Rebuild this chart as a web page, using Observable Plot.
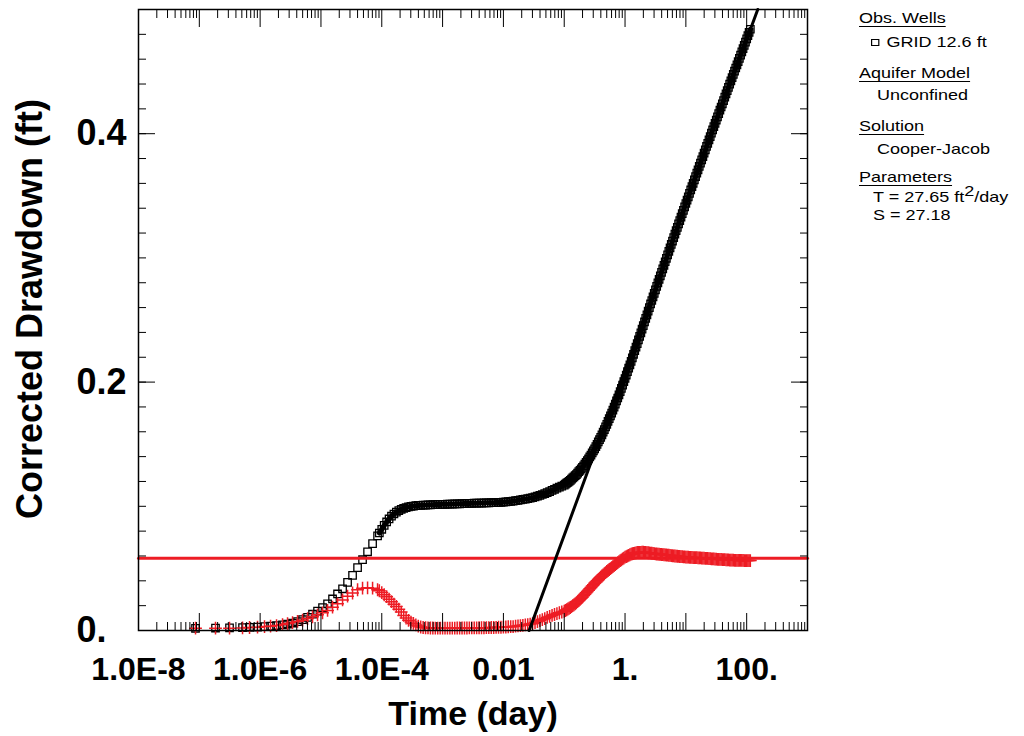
<!DOCTYPE html>
<html><head><meta charset="utf-8">
<script src="https://cdn.jsdelivr.net/npm/d3@7"></script>
<script src="https://cdn.jsdelivr.net/npm/@observablehq/plot@0.6"></script>
<style>
html,body{margin:0;padding:0;background:#fff;}
#wrap{position:relative;width:1024px;height:736px;overflow:hidden;}
.lg{position:absolute;white-space:nowrap;line-height:1;font-family:"Liberation Sans",Arial,sans-serif;font-size:15px;color:#000;transform:scaleX(1.2);transform-origin:0 0;}
.u{text-decoration:underline;text-underline-offset:3px;}
.sq{display:inline-block;width:5px;height:5px;border:1px solid #000;margin-right:6px;vertical-align:1px;}
.sup{position:relative;top:-6px;}
</style></head><body>
<div id="wrap"><div id="chart"></div>
<div class="lg u" style="left:859px;top:10px">Obs. Wells</div>
<div class="lg" style="left:871px;top:34px"><span class="sq"></span>GRID 12.6 ft</div>
<div class="lg u" style="left:859px;top:65px">Aquifer Model</div>
<div class="lg" style="left:877px;top:87px">Unconfined</div>
<div class="lg u" style="left:859px;top:118px">Solution</div>
<div class="lg" style="left:877px;top:141px">Cooper-Jacob</div>
<div class="lg u" style="left:859px;top:169px">Parameters</div>
<div class="lg" style="left:873px;top:189px">T = 27.65 ft<span class="sup">2</span>/day</div>
<div class="lg" style="left:873px;top:207px">S = 27.18</div>
</div>
<script>
// ---- data (time in days, drawdown / derivative in ft) ----
const time = [
  8.66e-8,1.846e-7,3.138e-7,5.135e-7,6.694e-7,9.06e-7,1.181e-6,1.483e-6,1.861e-6,2.335e-6,2.822e-6,3.41e-6,4.12e-6,4.98e-6,6.02e-6,7.27e-6,8.79e-6,1.062e-5,1.284e-5,1.551e-5,1.875e-5,2.266e-5,2.738e-5,3.309e-5,4.0e-5,4.83e-5,5.84e-5,7.06e-5,8.53e-5,
  9.120e-5,
  1.000e-4,1.096e-4,1.202e-4,1.318e-4,1.445e-4,1.585e-4,1.738e-4,1.905e-4,2.089e-4,2.291e-4,2.512e-4,2.754e-4,3.020e-4,3.311e-4,3.631e-4,3.981e-4,4.365e-4,4.786e-4,5.248e-4,5.754e-4,6.310e-4,6.918e-4,7.586e-4,8.318e-4,9.120e-4,
  1.000e-3,1.096e-3,1.202e-3,1.318e-3,1.445e-3,1.585e-3,1.738e-3,1.905e-3,2.089e-3,2.291e-3,2.512e-3,2.754e-3,3.020e-3,3.311e-3,3.631e-3,3.981e-3,4.365e-3,4.786e-3,5.248e-3,5.754e-3,6.310e-3,6.918e-3,7.586e-3,8.318e-3,9.120e-3,
  1.000e-2,1.096e-2,1.202e-2,1.318e-2,1.445e-2,1.585e-2,1.738e-2,1.905e-2,2.089e-2,2.291e-2,2.512e-2,2.754e-2,3.020e-2,3.311e-2,3.631e-2,3.981e-2,4.365e-2,4.786e-2,5.248e-2,5.754e-2,6.310e-2,6.918e-2,7.586e-2,8.318e-2,9.120e-2,
  0.1000,0.1047,0.1096,0.1148,0.1202,0.1259,0.1318,0.1380,0.1445,0.1514,0.1585,0.1660,0.1738,0.1820,0.1905,0.1995,0.2089,0.2188,0.2291,0.2399,0.2512,0.2630,0.2754,0.2884,0.3020,0.3162,0.3311,0.3467,0.3631,0.3802,0.3981,0.4169,0.4365,0.4571,0.4786,0.5012,0.5248,0.5495,0.5754,0.6026,0.6310,0.6607,0.6918,0.7244,0.7586,0.7943,0.8318,0.8710,0.9120,0.9550,
  1.000,1.047,1.096,1.148,1.202,1.259,1.318,1.380,1.445,1.514,1.585,1.660,1.738,1.820,1.905,1.995,2.089,2.188,2.291,2.399,2.512,2.630,2.754,2.884,3.020,3.162,3.311,3.467,3.631,3.802,3.981,4.169,4.365,4.571,4.786,5.012,5.248,5.495,5.754,6.026,6.310,6.607,6.918,7.244,7.586,7.943,8.318,8.710,9.120,9.550,
  10.00,10.47,10.96,11.48,12.02,12.59,13.18,13.80,14.45,15.14,15.85,16.60,17.38,18.20,19.05,19.95,20.89,21.88,22.91,23.99,25.12,26.30,27.54,28.84,30.20,31.62,33.11,34.67,36.31,38.02,39.81,41.69,43.65,45.71,47.86,50.12,52.48,54.95,57.54,60.26,63.10,66.07,69.18,72.44,75.86,79.43,83.18,87.10,91.20,95.50,
  100.0,104.7,109.6,114.8
];
const drawdown = [
  0.0018,0.0020,0.0021,0.0023,0.0025,0.0028,0.0031,0.0035,0.0040,0.0046,0.0052,0.0060,0.0072,0.0088,0.0106,0.0131,0.0156,0.0184,0.0215,0.0254,0.0294,0.0336,0.0388,0.0444,0.0506,0.0570,0.0634,0.0700,0.0762,
  0.0785,
  0.0815,0.0846,0.0874,0.0898,0.0920,0.0938,0.0953,0.0966,0.0976,0.0984,0.0990,0.0995,0.0999,0.1002,0.1005,0.1007,0.1008,0.1009,0.1010,0.1011,0.1012,0.1013,0.1014,0.1015,0.1015,
  0.1016,0.1016,0.1017,0.1018,0.1018,0.1019,0.1020,0.1020,0.1021,0.1022,0.1023,0.1023,0.1024,0.1025,0.1025,0.1026,0.1026,0.1027,0.1028,0.1028,0.1029,0.1029,0.1030,0.1031,0.1031,
  0.1033,0.1035,0.1037,0.1039,0.1042,0.1045,0.1048,0.1052,0.1055,0.1058,0.1062,0.1066,0.1070,0.1075,0.1081,0.1088,0.1095,0.1103,0.1111,0.1119,0.1128,0.1137,0.1146,0.1154,0.1162,
  0.1170,0.1178,0.1186,0.1193,0.1201,0.1209,0.1218,0.1228,0.1237,0.1247,0.1256,0.1267,0.1279,0.1290,0.1302,0.1313,0.1326,0.1340,0.1354,0.1367,0.1381,0.1397,0.1413,0.1430,0.1446,0.1462,0.1481,0.1499,0.1518,0.1536,0.1555,0.1576,0.1597,0.1618,0.1639,0.1660,0.1683,0.1706,0.1728,0.1751,0.1774,0.1799,0.1823,0.1848,0.1872,0.1897,0.1923,0.1950,0.1976,0.2003,
  0.2029,0.2057,0.2084,0.2112,0.2139,0.2167,0.2196,0.2224,0.2253,0.2281,0.2310,0.2339,0.2368,0.2397,0.2426,0.2455,0.2484,0.2513,0.2542,0.2571,0.2600,0.2629,0.2657,0.2686,0.2714,0.2743,0.2771,0.2799,0.2828,0.2856,0.2884,0.2912,0.2940,0.2969,0.2997,0.3025,0.3053,0.3081,0.3108,0.3136,0.3164,0.3191,0.3219,0.3246,0.3274,0.3301,0.3328,0.3356,0.3383,0.3411,
  0.3438,0.3465,0.3492,0.3520,0.3547,0.3574,0.3601,0.3628,0.3655,0.3682,0.3709,0.3736,0.3763,0.3789,0.3816,0.3843,0.3870,0.3897,0.3923,0.3950,0.3977,0.4004,0.4030,0.4057,0.4083,0.4110,0.4136,0.4162,0.4189,0.4215,0.4241,0.4267,0.4294,0.4320,0.4347,0.4373,0.4399,0.4425,0.4451,0.4477,0.4503,0.4529,0.4555,0.4581,0.4607,0.4633,0.4659,0.4685,0.4711,0.4737,
  0.4763,0.4789,0.4815,0.4841
];
const derivative = [
  0.0019,0.0019,0.0019,0.0021,0.0024,0.0027,0.0032,0.0035,0.0040,0.0048,0.0056,0.0064,0.0073,0.0083,0.0096,0.0110,0.0126,0.0142,0.0162,0.0188,0.0215,0.0246,0.0276,0.0302,0.0328,0.0341,0.0344,0.0341,0.0328,
  0.0320,
  0.0305,0.0288,0.0272,0.0252,0.0232,0.0212,0.0194,0.0172,0.0148,0.0121,0.0100,0.0082,0.0068,0.0057,0.0045,0.0036,0.0028,0.0024,0.0022,0.0021,0.0020,0.0020,0.0019,0.0019,0.0019,
  0.0019,0.0019,0.0019,0.0019,0.0019,0.0019,0.0020,0.0020,0.0020,0.0020,0.0020,0.0021,0.0021,0.0021,0.0021,0.0022,0.0022,0.0022,0.0023,0.0023,0.0024,0.0024,0.0025,0.0026,0.0026,
  0.0027,0.0028,0.0030,0.0031,0.0032,0.0035,0.0037,0.0040,0.0042,0.0045,0.0048,0.0052,0.0056,0.0064,0.0072,0.0080,0.0088,0.0096,0.0105,0.0113,0.0122,0.0129,0.0136,0.0143,0.0149,
  0.0155,0.0161,0.0167,0.0173,0.0179,0.0185,0.0192,0.0200,0.0207,0.0215,0.0222,0.0232,0.0241,0.0251,0.0260,0.0270,0.0281,0.0292,0.0303,0.0314,0.0325,0.0336,0.0347,0.0358,0.0369,0.0380,0.0390,0.0400,0.0410,0.0420,0.0430,0.0439,0.0448,0.0457,0.0466,0.0475,0.0483,0.0491,0.0499,0.0507,0.0515,0.0523,0.0531,0.0539,0.0547,0.0555,0.0562,0.0569,0.0576,0.0583,
  0.0590,0.0595,0.0600,0.0605,0.0610,0.0615,0.0618,0.0620,0.0623,0.0625,0.0628,0.0628,0.0629,0.0629,0.0630,0.0630,0.0629,0.0628,0.0627,0.0626,0.0625,0.0623,0.0622,0.0620,0.0619,0.0617,0.0616,0.0615,0.0614,0.0613,0.0612,0.0611,0.0610,0.0609,0.0608,0.0607,0.0606,0.0605,0.0603,0.0602,0.0601,0.0600,0.0599,0.0598,0.0597,0.0596,0.0595,0.0594,0.0593,0.0592,
  0.0591,0.0590,0.0590,0.0589,0.0589,0.0588,0.0587,0.0587,0.0586,0.0586,0.0585,0.0584,0.0584,0.0583,0.0583,0.0582,0.0581,0.0580,0.0580,0.0579,0.0578,0.0577,0.0576,0.0576,0.0575,0.0574,0.0573,0.0573,0.0572,0.0572,0.0571,0.0570,0.0570,0.0569,0.0569,0.0568,0.0567,0.0567,0.0566,0.0566,0.0565,0.0565,0.0565,0.0564,0.0564,0.0564,0.0564,0.0564,0.0563,0.0563,
  0.0563,0.0563,0.0563,0.0563
];
// Cooper-Jacob fitted straight line and its derivative
const fitTime = [0.0265, 152];
const fitDrawdown = [0, 0.5];
const fitDerivTime = [1e-8, 1e3];
const fitDerivValue = [0.0582, 0.0582];
// start of the continuously logged (dense) record
const denseStart = 9.0e-5;
// axes
const xDomain = [1e-8, 1e3];
const yDomain = [0, 0.5];
const xLabelTicks = [1e-8, 1e-6, 1e-4, 0.01, 1, 100];
const xLabelText = ["1.0E-8", "1.0E-6", "1.0E-4", "0.01", "1.", "100."];
const yLabelTicks = [0, 0.2, 0.4];
const yLabelText = ["0.", "0.2", "0.4"];
const xTitle = "Time (day)";
const yTitle = "Corrected Drawdown (ft)";

const RED = "#ed1c24";
const obs = time.map((t, i) => ({t, s: drawdown[i], d: derivative[i]}));
const dense = obs.filter(o => o.t >= denseStart);
const fit = fitTime.map((t, i) => ({t, s: fitDrawdown[i]}));
const fitD = fitDerivTime.map((t, i) => ({t, s: fitDerivValue[i]}));

const xAll = d3.scaleLog().domain(xDomain).ticks(60);
const xMajor = xAll.filter(v => Math.abs(Math.log10(v) - Math.round(Math.log10(v))) < 1e-9);
const xMinor = xAll.filter(v => !xMajor.includes(v));
const yMinor = d3.ticks(yDomain[0], yDomain[1], 25);
const yMajor = yLabelTicks;

const FONT = '"Liberation Sans", Arial, Helvetica, sans-serif';
const tickOpts = {label: null, text: null, stroke: "black", strokeWidth: 1};

const chart = Plot.plot({
  width: 1024, height: 736,
  marginLeft: 138, marginRight: 217, marginTop: 9, marginBottom: 106,
  style: {fontFamily: FONT, background: "white", color: "black", overflow: "visible"},
  x: {type: "log", domain: xDomain, label: null},
  y: {domain: yDomain, label: null},
  marks: [
    Plot.line(dense, {x: "t", y: "s", stroke: "black", strokeWidth: 5, strokeLinejoin: "round"}),
    Plot.dot(obs, {x: "t", y: "s", symbol: "square", r: 4.2, stroke: "black", strokeWidth: 1.3, fill: "none"}),
    Plot.line(fitD, {x: "t", y: "s", stroke: RED, strokeWidth: 3}),
    Plot.dot(obs, {x: "t", y: "d", symbol: "plus", r: 4.2, stroke: RED, strokeWidth: 1.5}),
    Plot.line(fit, {x: "t", y: "s", stroke: "black", strokeWidth: 3}),
    // inward ticks, all four sides
    Plot.axisX(xMinor, {...tickOpts, anchor: "bottom", tickSize: -8}),
    Plot.axisX(xMajor, {...tickOpts, anchor: "bottom", tickSize: -17}),
    Plot.axisX(xMinor, {...tickOpts, anchor: "top", tickSize: -8}),
    Plot.axisX(xMajor, {...tickOpts, anchor: "top", tickSize: -17}),
    Plot.axisY(yMinor, {...tickOpts, anchor: "left", tickSize: -8}),
    Plot.axisY(yMajor, {...tickOpts, anchor: "left", tickSize: -17}),
    Plot.axisY(yMinor, {...tickOpts, anchor: "right", tickSize: -8}),
    Plot.axisY(yMajor, {...tickOpts, anchor: "right", tickSize: -17}),
    // tick labels
    Plot.axisX(xLabelTicks, {anchor: "bottom", tickSize: 0, tickPadding: 27, label: null,
      tickFormat: v => xLabelText[xLabelTicks.indexOf(v)], fontSize: 32, fontWeight: "bold", fill: "black"}),
    Plot.axisY(yLabelTicks, {anchor: "left", tickSize: 0, tickPadding: 62, textAnchor: "start", label: null,
      tickFormat: v => yLabelText[yLabelTicks.indexOf(v)], fontSize: 36, fontWeight: "bold", fill: "black"}),
    // titles
    Plot.text([xTitle], {frameAnchor: "bottom", dy: 84, textAnchor: "middle", lineAnchor: "middle", text: d => d, fontSize: 34, fontWeight: "bold", fill: "black"}),
    Plot.text([yTitle], {frameAnchor: "left", dx: -108, dy: -11, rotate: -90, textAnchor: "middle", lineAnchor: "middle", text: d => d, fontSize: 36, fontWeight: "bold", fill: "black"}),
    Plot.frame({stroke: "black", strokeWidth: 1.5})
  ]
});
document.getElementById("chart").appendChild(chart);
</script>
</body></html>
